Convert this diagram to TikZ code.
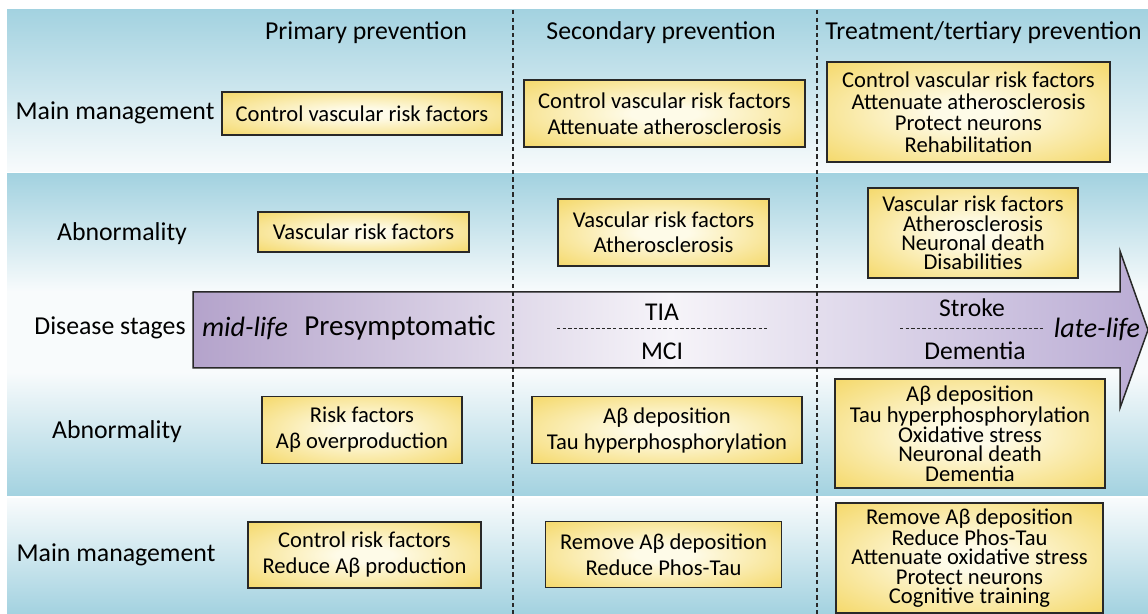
\documentclass[tikz,border=0pt]{standalone}
\usepackage{fontspec}
\setmainfont{Carlito}
\definecolor{BandBlue}{RGB}{163,210,224}
\definecolor{BandPale}{RGB}{248,251,252}
\definecolor{ArrowLilac}{RGB}{180,163,203}
\definecolor{ArrowLilacR}{RGB}{186,172,212}
\definecolor{ArrowMist}{RGB}{246,244,249}
\definecolor{BoxGold}{RGB}{244,214,96}
\definecolor{BoxCream}{RGB}{254,251,232}
\definecolor{RuleCol}{RGB}{40,40,40}
\pgfdeclareradialshading{pvglow}{\pgfpoint{0bp}{0bp}}{%
  color(0bp)=(BoxCream); color(6bp)=(BoxCream); color(38bp)=(BoxGold); color(50bp)=(BoxGold)}
\tikzset{
  pvsep/.style={line width=0.8pt, draw=RuleCol, dash pattern=on 2.2pt off 1.6pt},
  pvarrow/.style={line width=0.75pt, draw=RuleCol, left color=ArrowLilac, right color=ArrowLilacR, middle color=ArrowMist},
  pvbox/.style={draw=RuleCol, line width=0.9pt, shading=pvglow, align=center, inner sep=0pt, font=\fontsize{11.3}{13}\selectfont},
  pvlead/.style={font=\fontsize{11.3}{#1}\selectfont},
  pvhead/.style={font=\fontsize{12.9}{15}\selectfont, inner sep=0pt},
  pvrow/.style={font=\fontsize{12.9}{15}\selectfont, inner sep=0pt},
  pvstage/.style={font=\fontsize{12.8}{15}\selectfont, inner sep=0pt},
  pvbig/.style={font=\fontsize{14.5}{16}\selectfont, inner sep=0pt},
  pvlife/.style={font=\fontsize{14}{16}\selectfont\itshape, inner sep=0pt},
  pvdash/.style={line width=0.5pt, draw=RuleCol, dash pattern=on 1.7pt off 1.1pt}
}

\begin{document}
\begin{tikzpicture}[x=0.5pt,y=-0.5pt]
  \useasboundingbox (0,0) rectangle (1148,614);
  % bands
  \foreach \ya/\yb/\ca/\cb in {10/172/BandBlue/BandPale, 174/292/BandBlue/BandPale,
      372/496/BandPale/BandBlue, 499/614/BandPale/BandBlue}
    \shade[top color=\ca, bottom color=\cb] (7,\ya) rectangle (1148,\yb);
  \fill[BandPale] (7,291) rectangle (1148,372);
  % stage arrow
  \shadedraw[pvarrow] (193,292) -- (1120,292) -- (1120,251) -- (1148,330) --
    (1120,408) -- (1120,368) -- (193,368) -- cycle;
  \foreach \xs in {513,817}
    \draw[pvsep] (\xs,10) -- (\xs,614);
  \draw[pvdash] (557,329) -- (767,329);
  \draw[pvdash] (900,329) -- (1043,329);

  \node[pvhead] (hPrim) at (366,33) {Primary prevention};
  \node[pvhead] (hSec) at (661,33) {Secondary prevention};
  \node[pvhead,anchor=west] (hTer) at (825,33) {Treatment/tertiary prevention};

  \node[pvrow] (rMgmtA) at (115,113) {Main management};
  \node[pvrow] (rAbnA) at (122,234) {Abnormality};
  \node[pvrow] (rStage) at (110,328) {Disease stages};
  \node[pvrow] (rAbnB) at (117,432) {Abnormality};
  \node[pvrow] (rMgmtB) at (116,555) {Main management};

  \node[pvlife] (midLife) at (245,328) {mid-life};
  \node[pvbig] (preSym) at (400,328) {Presymptomatic};
  \node[pvstage] (tia) at (662,312) {TIA};
  \node[pvstage] (mci) at (662,351) {MCI};
  \node[pvstage] (stroke) at (972,308) {Stroke};
  \node[pvstage] (dement) at (975,351) {Dementia};
  \node[pvlife] (lateLife) at (1097,329) {late-life};

  \node[pvbox, minimum width=140pt, minimum height=21.5pt] (mgA1) at (362,113.5)
    {Control vascular risk factors};
  \node[pvbox, minimum width=140.5pt, minimum height=33.5pt] (mgA2) at (664.5,113.5)
    {Control vascular risk factors\\Attenuate atherosclerosis};
  \node[pvbox, pvlead=10.75, minimum width=141.5pt, minimum height=50pt] (mgA3) at (968.5,112)
    {Control vascular risk factors\\Attenuate atherosclerosis\\Protect neurons\\Rehabilitation};

  \node[pvbox, minimum width=105.5pt, minimum height=20pt] (abA1) at (363.5,232)
    {Vascular risk factors};
  \node[pvbox, pvlead=12.5, minimum width=105.5pt, minimum height=33.5pt] (abA2) at (663.5,232.5)
    {Vascular risk factors\\Atherosclerosis};
  \node[pvbox, pvlead=9.6, minimum width=105pt, minimum height=45pt] (abA3) at (973,233)
    {Vascular risk factors\\Atherosclerosis\\Neuronal death\\Disabilities};

  \node[pvbox, minimum width=100pt, minimum height=33.5pt] (abB1) at (362,430)
    {Risk factors\\Aβ overproduction};
  \node[pvbox, minimum width=135pt, minimum height=33.5pt] (abB2) at (667,430)
    {Aβ deposition\\Tau hyperphosphorylation};
  \node[pvbox, pvlead=9.7, minimum width=135pt, minimum height=54.5pt] (abB3) at (970,433.5)
    {Aβ deposition\\Tau hyperphosphorylation\\Oxidative stress\\Neuronal death\\Dementia};

  \node[pvbox, minimum width=116.5pt, minimum height=33pt] (mgB1) at (364.5,555)
    {Control risk factors\\Reduce Aβ production};
  \node[pvbox, minimum width=118pt, minimum height=33pt] (mgB2) at (663.5,554.5)
    {Remove Aβ deposition\\Reduce Phos-Tau};
  \node[pvbox, pvlead=9.7, minimum width=133.5pt, minimum height=55pt] (mgB3) at (969.5,558)
    {Remove Aβ deposition\\Reduce Phos-Tau\\Attenuate oxidative stress\\Protect neurons\\Cognitive training};
\end{tikzpicture}
\end{document}
